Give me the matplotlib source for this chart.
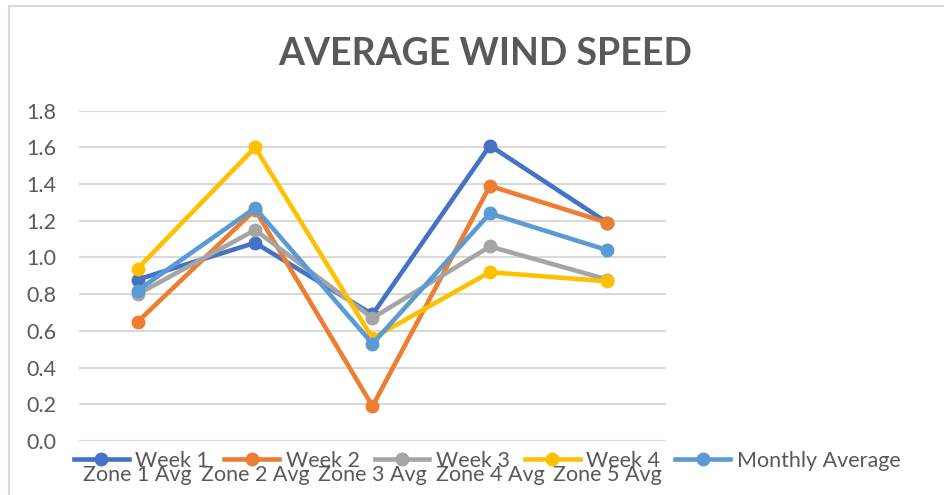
import matplotlib.pyplot as plt
from matplotlib.lines import Line2D
from matplotlib.patches import Rectangle

# ---------------------------
# Data
# ---------------------------
zones = ["Zone 1 Avg", "Zone 2 Avg", "Zone 3 Avg", "Zone 4 Avg", "Zone 5 Avg"]
week1 = [0.88, 1.08, 0.69, 1.61, 1.19]
week2 = [0.65, 1.26, 0.19, 1.39, 1.19]
week3 = [0.80, 1.15, 0.67, 1.06, 0.88]
week4 = [0.94, 1.60, 0.56, 0.92, 0.87]
monthly = [0.82, 1.27, 0.53, 1.24, 1.04]
y_ticks = [0.0, 0.2, 0.4, 0.6, 0.8, 1.0, 1.2, 1.4, 1.6, 1.8]

series = [
    ("Week 1", week1, "#4472C4"),
    ("Week 2", week2, "#ED7D31"),
    ("Week 3", week3, "#A5A5A5"),
    ("Week 4", week4, "#FFC000"),
    ("Monthly Average", monthly, "#5B9BD5"),
]

TEXT = "#595959"
GRID = "#D9D9D9"

plt.rcParams["font.family"] = ["Lato", "DejaVu Sans"]

W, H = 945, 495
fig = plt.figure(figsize=(W / 100, H / 100), dpi=100)

# chart frame (cropped on the right and bottom)
fig.patches.append(Rectangle((9 / W, -0.1), 1.2, 1 - 6 / H + 0.1,
                             transform=fig.transFigure, fill=False,
                             edgecolor=GRID, linewidth=1.5))

ax = fig.add_axes([79 / W, 1 - 441 / H, (666 - 79) / W, (441 - 110.7) / H])

x = list(range(len(zones)))
for name, vals, col in series:
    ax.plot(x, vals, color=col, linewidth=3.3, marker="o", markersize=9,
            label=name, solid_capstyle="round", zorder=3)

ax.set_xlim(-0.5, len(zones) - 0.5)
ax.set_ylim(0, 1.8)
ax.set_yticks(y_ticks)
ax.set_yticklabels([f"{v:.1f}" for v in y_ticks])
ax.set_xticks(x)
ax.set_xticklabels(zones)
ax.tick_params(axis="y", length=0, pad=16, labelsize=15.5, labelcolor=TEXT)
ax.tick_params(axis="x", length=0, pad=17.5, labelsize=15.5, labelcolor=TEXT)
ax.grid(axis="y", color=GRID, linewidth=1.5)
ax.set_axisbelow(True)
for s in ax.spines.values():
    s.set_visible(False)

fig.text(485 / W, 1 - 54 / H, "AVERAGE WIND SPEED", ha="center", va="center",
         fontsize=27, fontweight="bold", color=TEXT)

# legend sits on top of the category labels, like in the original
handles = [Line2D([], [], color=c, linewidth=3.3, marker="o", markersize=9)
           for _, _, c in series]
leg = fig.legend(handles, [s[0] for s in series], loc="center left",
                 bbox_to_anchor=(74 / W, 1 - 461 / H), ncol=5, frameon=False,
                 fontsize=15.5, handlelength=2.55, handletextpad=0.3,
                 columnspacing=0.7, borderaxespad=0, borderpad=0)
for t in leg.get_texts():
    t.set_color(TEXT)

fig.savefig("out.png", dpi=100)
